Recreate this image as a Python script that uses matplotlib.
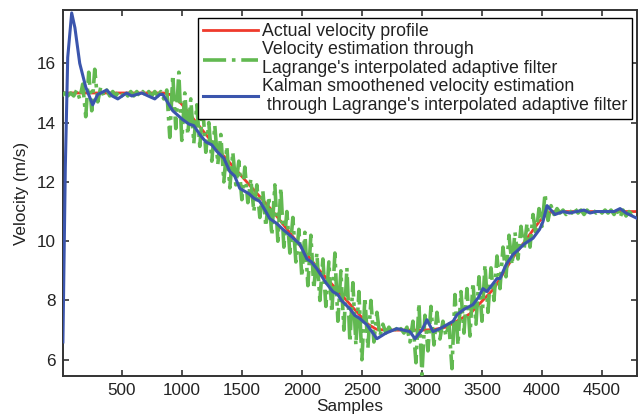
import matplotlib
matplotlib.use("Agg")
import matplotlib.pyplot as plt
import numpy as np

plt.rcParams['font.family'] = ['Liberation Sans', 'DejaVu Sans']

# Actual velocity profile (breakpoints)
actual_x = [0, 850, 900, 950, 1000, 1300, 1760, 2150, 2450, 2550, 2620, 2700, 3000, 3100, 3200,
            3400, 3600, 3750, 3980, 4050, 4100, 4800]
actual_y = [15.0, 15.0, 14.95, 14.82, 14.62, 13.1, 11.0, 9.0, 7.65, 7.2, 7.03, 7.0, 7.0, 7.02, 7.1,
            7.55, 8.4, 9.4, 10.68, 10.95, 11.0, 11.0]

# Lagrange interpolated adaptive filter estimate: per-50-sample bins, upper / lower excursions
green_bins = list(range(0, 4800, 50))
green_hi = [15.0, 15.0, 15.1, 15.3, 15.7, 15.8, 15.2, 15.1, 15.05, 15.05,
            15.05, 15.05, 15.05, 15.05, 15.05, 15.05, 15.05, 15.1, 15.6, 15.7,
            15.0, 14.8, 14.6, 14.5, 14.0, 13.9, 13.6, 13.2, 13.0, 12.7,
            12.5, 12.1, 11.9, 11.7, 11.5, 11.9, 11.8, 11.0, 10.8, 10.4,
            10.3, 10.2, 9.6, 9.4, 9.3, 9.6, 9.0, 9.1, 8.6, 8.3,
            8.1, 8.0, 7.6, 7.2, 7.1, 7.1, 7.05, 7.1, 7.3, 7.9,
            7.5, 7.8, 7.6, 7.3, 7.2, 8.2, 8.3, 8.4, 8.6, 8.8,
            9.2, 9.1, 9.5, 9.8, 10.2, 10.3, 10.5, 10.6, 10.9, 11.1,
            11.6, 11.2, 11.1, 11.05, 11.05, 11.1, 11.05, 11.05, 11.05, 11.05,
            11.05, 11.05, 11.1, 11.05, 11.0, 11.0]
green_lo = [14.9, 14.9, 14.9, 14.8, 14.2, 14.4, 14.7, 14.9, 14.9, 14.9,
            14.9, 14.9, 14.9, 14.9, 14.9, 14.9, 14.9, 14.8, 13.5, 13.8,
            13.4, 13.6, 13.3, 13.2, 13.0, 12.7, 12.6, 12.0, 11.8, 11.9,
            11.4, 11.3, 11.0, 10.8, 10.5, 10.2, 10.0, 9.8, 9.6, 9.3,
            8.8, 8.5, 8.4, 8.0, 7.8, 7.6, 7.3, 7.0, 6.6, 6.5,
            6.0, 6.4, 6.6, 6.8, 6.9, 6.95, 6.9, 6.9, 6.6, 5.9,
            5.5, 6.3, 6.5, 6.7, 6.8, 5.7, 6.5, 6.9, 6.8, 7.2,
            7.3, 7.6, 8.0, 8.4, 8.8, 9.2, 9.4, 9.7, 9.8, 10.2,
            10.5, 10.7, 10.9, 10.95, 10.9, 10.95, 10.95, 10.9, 10.95, 10.95,
            10.95, 10.95, 10.9, 10.8, 10.85, 10.9]

# Kalman smoothed estimate
kalman_x = [10, 30, 50, 83, 110, 150, 200, 258, 300, 375, 420, 467, 540, 583, 667, 720, 775, 817,
            842, 925, 1008, 1060, 1100, 1150, 1200, 1250, 1292, 1350, 1400, 1440, 1483, 1560, 1600,
            1650, 1700, 1733, 1790, 1842, 1900, 1983, 2042, 2080, 2125, 2200, 2258, 2300, 2330,
            2400, 2440, 2480, 2542, 2625, 2700, 2792, 2900, 2942, 3000, 3042, 3092, 3150, 3208,
            3260, 3292, 3350, 3425, 3470, 3508, 3542, 3625, 3650, 3700, 3758, 3800, 3850, 3925,
            3980, 4008, 4042, 4108, 4175, 4230, 4288, 4350, 4400, 4450, 4500, 4600, 4650, 4700, 4792]
kalman_y = [6.6, 12.5, 16.2, 17.7, 17.2, 16.0, 15.2, 14.6, 14.95, 15.1, 14.9, 14.8, 15.0, 14.9,
            15.0, 14.9, 14.8, 14.95, 14.95, 14.4, 14.1, 13.95, 13.9, 13.6, 13.35, 13.25, 13.03,
            12.8, 12.35, 12.2, 11.78, 11.6, 11.45, 11.34, 11.0, 10.76, 10.6, 10.4, 10.2, 9.9, 9.4,
            9.3, 9.07, 8.6, 8.3, 8.2, 8.0, 7.72, 7.5, 7.4, 7.18, 6.71, 6.9, 7.05, 6.95, 6.71, 7.0,
            7.35, 6.95, 7.05, 7.18, 7.3, 7.52, 7.7, 7.86, 8.1, 8.4, 8.3, 8.74, 8.74, 9.2, 9.55,
            9.7, 9.9, 10.1, 10.4, 10.66, 11.2, 10.9, 11.0, 10.95, 11.0, 11.05, 10.95, 11.0, 11.0,
            11.0, 11.1, 10.95, 10.77]

red_c = '#ef3a2c'
green_c = '#62b951'
blue_c = '#3b55ad'
txt_c = '#222222'

fig = plt.figure(figsize=(6.42, 4.16), dpi=100)
ax = fig.add_axes([0.098, 0.096, 0.894, 0.880])

# build green zigzag from envelope values
gx, gy = [], []
for b, lo, hi in zip(green_bins, green_lo, green_hi):
    gx += [b, b + 25]
    gy += [lo, hi]

ax.plot(actual_x, actual_y, color=red_c, lw=2.0, label='Actual velocity profile', zorder=2)
ax.plot(gx, gy, color=green_c, lw=2.6, ls='-.',
        label="Velocity estimation through\nLagrange's interpolated adaptive filter", zorder=3)
ax.plot(kalman_x, kalman_y, color=blue_c, lw=2.2,
        label="Kalman smoothened velocity estimation\n through Lagrange's interpolated adaptive filter",
        zorder=4)

ax.set_xlim(10, 4790)
ax.set_ylim(5.45, 17.8)
ax.set_xticks([500, 1000, 1500, 2000, 2500, 3000, 3500, 4000, 4500])
ax.set_yticks([6, 8, 10, 12, 14, 16])
ax.tick_params(direction='in', top=True, right=True, length=4, width=1.2,
               labelsize=12.3, colors='#333333', labelcolor=txt_c, pad=5)
for s in ax.spines.values():
    s.set_linewidth(1.4)
    s.set_color('#333333')

ax.set_xlabel('Samples', fontsize=12.3, color=txt_c, labelpad=1)
ax.set_ylabel('Velocity (m/s)', fontsize=12.3, color=txt_c, labelpad=6)

leg = ax.legend(loc='upper right', bbox_to_anchor=(0.992, 0.978), borderaxespad=0,
                fontsize=12.8, fancybox=False, edgecolor='black', framealpha=1,
                handlelength=3.1, handletextpad=0.2, labelspacing=0.05, borderpad=0.3)
leg.get_frame().set_linewidth(1.0)
for t in leg.get_texts():
    t.set_color(txt_c)
    t.set_linespacing(1.15)

fig.savefig('out.png', dpi=100)
